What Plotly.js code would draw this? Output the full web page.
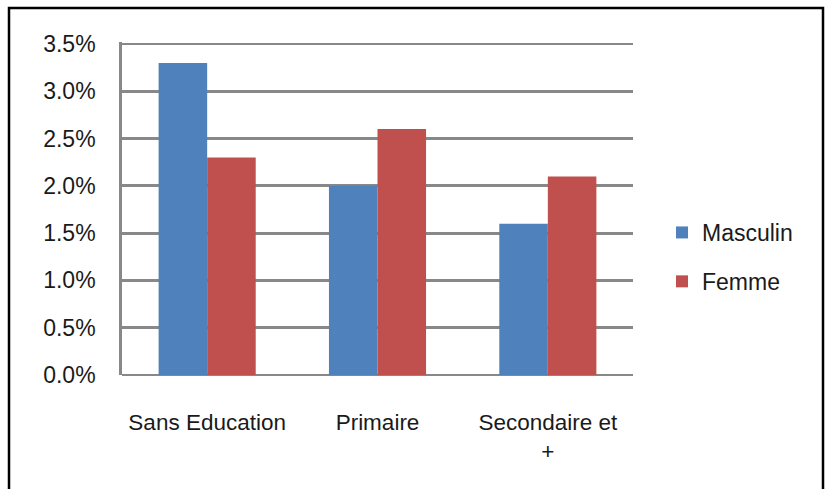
<!DOCTYPE html>
<html>
<head>
<meta charset="utf-8">
<script src="https://cdn.plot.ly/plotly-3.0.1.min.js"></script>
<style>
  html, body { margin: 0; padding: 0; background: #ffffff; }
  #chart { width: 827px; height: 489px; }
</style>
</head>
<body>
<div id="chart"></div>
<script>
// Education level categories and rates (%) by sex
const categories = ["Sans Education", "Primaire", "Secondaire et<br>+"];
const masculin = [3.3, 2.0, 1.6];
const femme = [2.3, 2.6, 2.1];
const yTicks = [0, 0.5, 1.0, 1.5, 2.0, 2.5, 3.0, 3.5];

const font = "'Liberation Sans', Arial, sans-serif";
const textColor = "#1a1a1a";
const gridColor = "#888888";

const traces = [
  {
    type: "bar",
    name: "Masculin",
    x: categories,
    y: masculin,
    marker: { color: "#4f81bd" },
    legendgroup: "m",
    hoverinfo: "skip"
  },
  {
    type: "bar",
    name: "Femme",
    x: categories,
    y: femme,
    marker: { color: "#c0504d" },
    legendgroup: "f",
    hoverinfo: "skip"
  }
];

// Plot area edges in pixels; the y range runs a hair past 3.5 so the
// top gridline is still drawn
const L = 122, R = 633, T = 42, B = 375;
const yMax = 3.5 * (B - T) / (B - 44);
const px = v => (v - L) / (R - L);
const py = v => (B - v) / (B - T);

const layout = {
  width: 827,
  height: 489,
  margin: { l: L, r: 827 - R, t: T, b: 489 - B },
  paper_bgcolor: "#ffffff",
  plot_bgcolor: "#ffffff",
  barmode: "group",
  bargap: 0.43,
  bargroupgap: 0,
  font: { family: font, size: 22, color: textColor },
  showlegend: true,
  legend: {
    x: px(662),
    y: py(257),
    xanchor: "left",
    yanchor: "middle",
    font: { family: font, size: 23, color: textColor },
    traceorder: "grouped",
    tracegroupgap: 16,
    itemwidth: 30,
    bgcolor: "rgba(0,0,0,0)"
  },
  xaxis: {
    type: "category",
    showgrid: false,
    showline: false,
    zeroline: false,
    ticks: "outside",
    ticklen: 27,
    tickcolor: "rgba(0,0,0,0)",
    tickfont: { family: font, size: 22.5, color: textColor },
    fixedrange: true
  },
  yaxis: {
    range: [0, yMax],
    tickvals: yTicks,
    ticktext: yTicks.map(v => v.toFixed(1) + "%"),
    showgrid: true,
    gridcolor: gridColor,
    gridwidth: 2.8,
    zeroline: true,
    zerolinecolor: gridColor,
    zerolinewidth: 2.8,
    showline: true,
    linecolor: gridColor,
    linewidth: 2.8,
    ticks: "outside",
    ticklen: 19,
    tickcolor: "rgba(0,0,0,0)",
    tickfont: { family: font, size: 23, color: textColor },
    fixedrange: true
  },
  shapes: [
    {
      // outer frame around the whole figure
      type: "rect",
      xref: "paper", yref: "paper",
      x0: px(9), x1: px(823),
      y0: py(520), y1: py(8),
      line: { color: "#000000", width: 2.5 },
      fillcolor: "rgba(0,0,0,0)",
      layer: "above"
    }
  ]
};

Plotly.newPlot("chart", traces, layout, { displayModeBar: false, staticPlot: true });
</script>
</body>
</html>
